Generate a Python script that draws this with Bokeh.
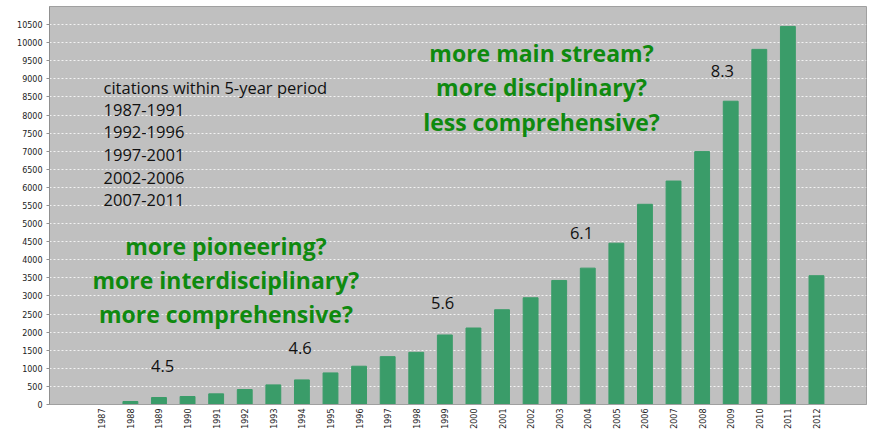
import math
from bokeh.plotting import figure
from bokeh.models import FixedTicker, ColumnDataSource
from bokeh.core.properties import value
from bokeh.embed import file_html
from bokeh.resources import INLINE

# ---- data ----
years = list(range(1987, 2013))
citations = [0, 83, 193, 221, 294, 414, 542, 680, 873, 1058, 1323, 1442, 1921, 2114,
             2619, 2950, 3428, 3769, 4458, 5533, 6176, 6990, 8382, 9815, 10449, 3560]
y_ticks = list(range(0, 11000, 500))
legend_lines = ["citations within 5-year period", "1987-1991", "1992-1996",
                "1997-2001", "2002-2006", "2007-2011"]
ratio_labels = ["4.5", "4.6", "5.6", "6.1", "8.3"]
early_questions = ["more pioneering?", "more interdisciplinary?", "more comprehensive?"]
late_questions = ["more main stream?", "more disciplinary?", "less comprehensive?"]

# ---- layout constants ----
legend_x = [1987.06] * 6
legend_y = [8770, 8146, 7526, 6902, 6266, 5639]
ratio_x = [1989.13, 1993.94, 1998.92, 2003.78, 2008.71]
ratio_y = [1059, 1567, 2792, 4746, 9224]
early_x = [1991.34] * 3
early_y = [4380, 3440, 2500]
late_x = [2002.38] * 3
late_y = [9712, 8772, 7806]

p = figure(width=868, height=432, output_backend="svg", toolbar_location=None,
           x_range=(1985.17, 2013.75), y_range=(0, 11000),
           min_border_left=49, min_border_right=2, min_border_top=6, min_border_bottom=28)

p.background_fill_color = "#c0c0c0"
p.border_fill_color = "white"
p.outline_line_color = "#a0a0a0"

src = ColumnDataSource(dict(x=years, top=citations))
p.vbar(x="x", top="top", width=0.52, bottom=0, source=src,
       fill_color="#3a9c69", line_color="#3a9c69")

# axes
p.xaxis.ticker = FixedTicker(ticks=years)
p.xaxis.major_label_orientation = math.pi / 2
p.xaxis.major_label_text_font = "DejaVu Sans"
p.xaxis.major_label_text_font_size = "8px"
p.xaxis.major_label_text_color = "#222222"
p.xaxis.major_tick_line_color = None
p.xaxis.major_tick_out = 0
p.xaxis.major_tick_in = 0
p.xaxis.minor_tick_line_color = None
p.xaxis.axis_line_color = "#a0a0a0"
p.xaxis.major_label_standoff = 4

p.yaxis.ticker = FixedTicker(ticks=y_ticks)
p.yaxis.major_label_text_font = "DejaVu Sans"
p.yaxis.major_label_text_font_size = "8px"
p.yaxis.major_label_text_color = "#222222"
p.yaxis.major_tick_line_color = "#909090"
p.yaxis.major_tick_out = 3
p.yaxis.major_tick_in = 0
p.yaxis.minor_tick_line_color = None
p.yaxis.axis_line_color = "#909090"
p.yaxis.major_label_standoff = 4

p.xgrid.grid_line_color = None
p.ygrid.grid_line_color = "white"
p.ygrid.grid_line_dash = "2 2"
p.ygrid.grid_line_alpha = 0.8

# annotations
p.text(x=legend_x, y=legend_y, text=legend_lines, text_font=value("Open Sans"),
       text_font_size="16.5px", text_color="#111111", text_baseline="middle", text_align="left")
p.text(x=ratio_x, y=ratio_y, text=ratio_labels, text_font=value("Open Sans"),
       text_font_size="16.5px", text_color="#111111", text_baseline="middle", text_align="center")
p.text(x=early_x, y=early_y, text=early_questions, text_font=value("Open Sans"),
       text_font_size="23px", text_font_style="bold", text_color="#0f8a0f",
       text_baseline="middle", text_align="center")
p.text(x=late_x, y=late_y, text=late_questions, text_font=value("Open Sans"),
       text_font_size="23px", text_font_style="bold", text_color="#0f8a0f",
       text_baseline="middle", text_align="center")

open("out.html", "w").write(file_html(p, INLINE))
